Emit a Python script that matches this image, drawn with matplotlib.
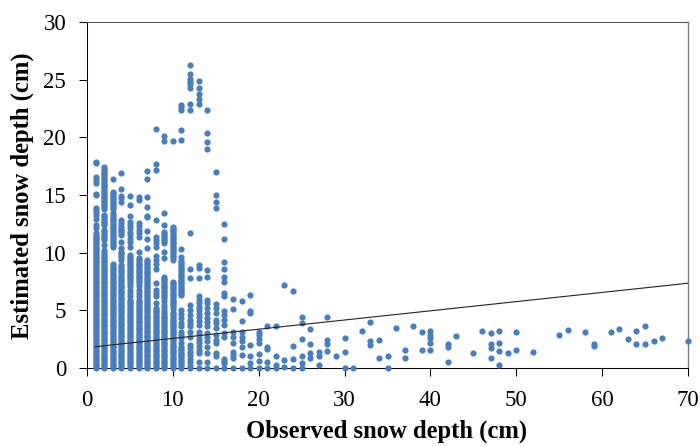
import matplotlib
matplotlib.use("Agg")
import matplotlib.pyplot as plt

plt.rcParams['font.family'] = ['Liberation Serif', 'DejaVu Serif']

# estimated snow depth readings, one list per observed depth
depth_1 = [17.9, 17.8, 16.6, 16.3, 16.0, 15.1, 15.0, 13.9, 13.7, 13.5, 13.3, 12.9, 12.4, 12.1, 11.7, 11.4, 11.1, 10.8, 10.5, 10.2, 9.9, 9.6, 9.3, 9.0, 8.7, 8.4, 8.1, 7.8, 7.5, 7.2, 6.9, 6.6, 6.3, 6.0, 5.7, 5.4, 5.1, 4.8, 4.5, 4.2, 3.9, 3.6, 3.3, 3.0, 2.7, 2.4, 2.1, 1.8, 1.5, 1.2, 0.9, 0.6, 0.3, 0.0,
           11.55, 11.25, 10.95, 10.65, 10.35, 10.05, 9.75, 9.45, 9.15, 8.85, 8.55, 8.25, 7.95, 7.65, 7.35, 7.05, 6.75, 6.45, 6.15, 5.85, 5.55, 5.25, 4.95, 4.65, 4.35, 4.05, 3.75, 3.45, 3.15, 2.85, 2.55, 2.25, 1.95, 1.65, 1.35, 1.05, 0.75, 0.45, 0.15]
depth_2 = [17.4, 17.1, 16.8, 16.5, 16.2, 15.9, 15.6, 15.3, 15.0, 14.7, 14.4, 14.1, 13.8, 13.3, 13.0, 12.7, 12.4, 12.0, 11.7, 11.4, 11.1, 10.7, 10.2, 9.9, 9.6, 9.3, 9.0, 8.7, 8.4, 8.1, 7.8, 7.5, 7.2, 6.9, 6.6, 6.3, 6.0, 5.7, 5.4, 5.1, 4.8, 4.5, 4.2, 3.9, 3.6, 3.3, 3.0, 2.7, 2.4, 2.1, 1.8, 1.5, 1.2, 0.9, 0.6, 0.3, 0.0,
           17.25, 16.95, 16.65, 16.35, 16.05, 15.75, 15.45, 15.15, 14.85, 14.55, 14.25, 13.95, 13.15, 12.85, 12.55, 11.85, 11.55, 11.25, 10.05, 9.75, 9.45, 9.15, 8.85, 8.55, 8.25, 7.95, 7.65, 7.35, 7.05, 6.75, 6.45, 6.15, 5.85, 5.55, 5.25, 4.95, 4.65, 4.35, 4.05, 3.75, 3.45, 3.15, 2.85, 2.55, 2.25, 1.95, 1.65, 1.35, 1.05, 0.75, 0.45, 0.15]
depth_3 = [16.4, 15.3, 15.0, 14.7, 14.4, 14.1, 13.8, 13.4, 13.1, 12.8, 12.5, 12.2, 11.9, 11.6, 11.3, 11.0, 10.7, 10.5, 9.0, 8.7, 8.4, 8.1, 7.8, 7.5, 7.2, 6.9, 6.6, 6.3, 6.0, 5.7, 5.4, 5.1, 4.8, 4.5, 4.2, 3.9, 3.6, 3.3, 3.0, 2.7, 2.4, 2.1, 1.8, 1.5, 1.2, 0.9, 0.6, 0.3, 0.0,
           15.15, 14.85, 14.55, 14.25, 13.95, 13.25, 12.95, 12.65, 12.35, 12.05, 11.75, 11.45, 11.15, 10.85, 8.85, 8.55, 8.25, 7.95, 7.65, 7.35, 7.05, 6.75, 6.45, 6.15, 5.85, 5.55, 5.25, 4.95, 4.65, 4.35, 4.05, 3.75, 3.45, 3.15, 2.85, 2.55, 2.25, 1.95, 1.65, 1.35, 1.05, 0.75, 0.45, 0.15]
depth_4 = [16.9, 15.5, 14.9, 14.7, 14.4, 12.8, 12.6, 12.3, 12.0, 11.7, 11.5, 10.9, 10.4, 10.1, 9.8, 9.4, 8.9, 8.6, 8.3, 7.9, 7.6, 7.3, 7.0, 6.7, 6.4, 6.1, 5.8, 5.5, 5.2, 4.9, 4.6, 4.3, 4.0, 3.7, 3.4, 3.1, 2.8, 2.5, 2.2, 1.9, 1.6, 1.3, 1.0, 0.7, 0.4, 0.1, 0.0,
           12.15, 11.85, 9.95, 9.65, 8.75, 8.45, 8.1, 7.75, 7.45, 7.15, 6.85, 6.55, 6.25, 5.95, 5.65, 5.35, 5.05, 4.75, 4.45, 4.15, 3.85, 3.55, 3.25, 2.95, 2.65, 2.35, 2.05, 1.75, 1.45, 1.15, 0.85, 0.55, 0.25]
depth_5 = [14.9, 14.1, 13.2, 12.7, 12.4, 12.1, 11.8, 11.5, 11.2, 10.9, 10.5, 9.8, 9.5, 9.2, 8.9, 8.6, 8.3, 8.0, 7.7, 7.4, 7.1, 6.8, 6.5, 6.2, 5.9, 5.6, 5.3, 5.0, 4.7, 4.4, 4.1, 3.8, 3.5, 3.2, 2.9, 2.6, 2.3, 2.0, 1.7, 1.4, 1.1, 0.8, 0.5, 0.2, 0.0,
           9.65, 9.35, 9.05, 8.75, 8.45, 8.15, 7.85, 7.55, 5.75, 5.45, 5.15, 4.85, 4.55, 4.25, 3.95, 3.65, 3.35, 3.05, 2.75, 2.45, 2.15, 1.85, 1.55, 1.25, 0.95, 0.65, 0.35]
depth_6 = [14.8, 14.6, 12.6, 12.3, 12.0, 11.7, 11.4, 10.1, 9.5, 9.2, 8.9, 8.6, 8.3, 8.0, 7.7, 7.4, 7.1, 6.8, 6.5, 6.2, 5.9, 5.6, 5.3, 5.0, 4.7, 4.4, 4.1, 3.8, 3.5, 3.2, 2.9, 2.6, 2.3, 2.0, 1.7, 1.4, 1.1, 0.8, 0.5, 0.2, 0.0,
           9.35, 9.05, 8.75, 8.45, 8.15, 7.85, 7.55, 5.75, 5.45, 5.15, 4.85, 4.55, 4.25, 3.95, 3.65, 3.35, 3.05, 2.75, 2.45, 2.15, 1.85, 1.55, 1.25, 0.95, 0.65, 0.35]
depth_7 = [17.1, 16.4, 14.8, 14.0, 13.2, 13.1, 11.9, 11.2, 10.4, 9.4, 9.1, 8.8, 8.5, 8.2, 7.9, 7.6, 7.3, 7.0, 6.7, 6.4, 6.1, 5.8, 5.5, 5.2, 4.9, 4.6, 4.3, 4.0, 3.7, 3.4, 3.1, 2.8, 2.5, 2.2, 1.9, 1.6, 1.3, 1.0, 0.7, 0.4, 0.1, 0.0,
           9.25, 8.95, 8.65, 8.35, 8.05, 7.75, 7.45, 7.15, 6.85, 6.55, 6.25, 5.95, 5.65, 5.35, 5.05, 4.75, 4.45, 4.15, 3.85, 3.55, 3.25, 2.95, 2.65, 2.35, 2.05, 1.75, 1.45, 1.15, 0.85, 0.55, 0.25]
depth_8 = [20.7, 17.7, 17.2, 12.8, 11.4, 11.1, 10.8, 10.5, 9.7, 9.4, 9.0, 8.6, 7.4, 6.8, 6.5, 6.2, 5.6, 5.2, 4.9, 4.6, 4.3, 4.0, 3.7, 3.4, 3.1, 2.8, 2.5, 2.2, 1.9, 1.6, 1.3, 1.0, 0.7, 0.4, 0.1, 0.0,
           5.05, 4.75, 4.45, 4.15, 3.85, 3.55, 3.25, 2.95, 2.65, 2.35, 2.05, 1.75, 1.45, 1.15, 0.85, 0.55, 0.25]
depth_9 = [20.1, 19.7, 13.4, 12.4, 11.8, 11.5, 11.2, 10.8, 10.1, 9.5, 7.9, 7.6, 7.3, 7.0, 6.7, 6.4, 6.1, 5.8, 5.5, 5.2, 4.9, 4.6, 4.3, 4.0, 3.7, 3.4, 3.1, 2.8, 2.5, 2.2, 1.9, 1.6, 1.3, 1.0, 0.7, 0.4, 0.1, 0.0,
           11.65, 11.35, 11.0, 7.75, 7.45, 7.15, 6.85, 6.55, 6.25, 4.75, 4.45, 4.15, 3.85, 3.55, 3.25, 2.95, 2.65, 2.35, 2.05, 1.75, 1.45, 1.15, 0.85, 0.55, 0.25]
depth_10 = [19.65, 12.25, 12.0, 11.7, 11.4, 11.1, 10.8, 10.5, 10.2, 9.9, 9.6, 9.4, 7.5, 7.2, 6.9, 6.6, 6.3, 6.0, 5.7, 5.4, 5.1, 4.8, 4.5, 4.2, 3.9, 3.6, 3.3, 3.0, 2.7, 2.4, 2.1, 1.8, 1.5, 1.2, 0.9, 0.6, 0.3, 0.0,
            12.1, 11.85, 11.55, 11.25, 10.95, 10.65, 10.35, 10.05, 9.75, 7.35, 7.05, 6.75, 6.45, 6.15, 5.85, 5.55, 4.65, 4.35, 4.05, 3.75, 3.45, 3.15, 2.85, 2.55, 2.25, 1.95, 1.65, 1.35, 1.05, 0.75, 0.45, 0.15]
depth_11 = [22.8, 22.6, 22.4, 20.6, 19.8, 10.3, 9.65, 9.3, 9.0, 8.7, 8.4, 8.1, 7.8, 7.5, 7.2, 6.9, 6.6, 6.3, 5.0, 4.7, 4.3, 3.9, 3.6, 3.15, 2.85, 2.6, 2.15, 1.85, 1.55, 1.25, 0.95, 0.65, 0.35, 0.0,
            9.15, 8.85, 8.55, 8.25, 7.95, 7.65, 7.35, 7.05, 6.75, 6.45, 1.7, 1.4, 1.1, 0.8, 0.5, 0.2]
depth_12 = [26.3, 25.5, 25.1, 24.8, 24.6, 24.3, 22.9, 22.4, 11.7, 8.6, 7.8, 5.45, 5.0, 4.6, 4.15, 3.9, 3.6, 3.15, 2.7, 2.0, 1.7, 1.4, 1.1, 0.8, 0.5, 0.2, 0.0]
depth_13 = [24.9, 24.3, 23.8, 23.3, 22.9, 8.9, 8.7, 7.8, 6.2, 5.9, 5.6, 5.3, 5.0, 4.7, 4.4, 4.1, 3.75, 3.15, 2.85, 2.55, 2.25, 1.95, 1.6, 1.3, 0.55, 0.0]
depth_14 = [22.4, 20.4, 19.6, 19.0, 8.5, 7.9, 5.9, 5.6, 5.2, 4.75, 4.3, 4.0, 3.6, 3.0, 2.7, 2.3, 1.85, 1.3, 0.55, 0.0]
depth_15 = [17.0, 15.0, 14.4, 13.9, 5.55, 5.2, 4.75, 4.15, 3.9, 3.45, 2.85, 2.45, 2.15, 1.3, 1.0, 0.0]
depth_16 = [12.5, 11.2, 9.2, 8.6, 7.9, 7.5, 6.5, 6.2, 4.9, 4.6, 4.15, 3.75, 3.0, 2.7, 0.8, 0.65, 0.4, 0.0]
depth_17 = [6.0, 5.15, 3.15, 2.7, 2.15, 1.4, 1.1, 0.85, 0.0]
depth_18 = [5.85, 4.1, 3.15, 2.7, 2.3, 1.85, 1.1, 0.0]
depth_19 = [6.3, 4.9, 4.75, 2.0, 1.05, 0.4, 0.0]
depth_20 = [3.15, 2.85, 2.5, 2.2, 1.25, 0.65, 0.0]
depth_21 = [3.6, 1.85, 1.65, 0.55, 0.0]
depth_22 = [3.6, 1.05, 0.3, 0.0]
depth_23 = [7.2, 0.7, 0.05]
depth_24 = [6.7, 1.9, 0.75, 0.0]
depth_25 = [4.4, 3.9, 2.5, 1.05, 0.4, 0.0]
depth_26 = [3.35, 2.1, 1.3, 0.9]
depth_27 = [1.4, 1.05, 0.25]
depth_28 = [4.4, 2.4, 2.1, 1.45]
depth_29 = [1.0]
depth_30 = [2.6, 1.4, 0.0]
depth_31 = [0.0]
depth_32 = [3.2]
depth_33 = [4.0, 2.3, 2.0]
depth_34 = [2.4, 0.9]
depth_35 = [1.05, 0.0]
depth_36 = [3.45]
depth_37 = [1.55, 0.9]
depth_38 = [3.6]
depth_39 = [3.1, 1.55]
depth_40 = [3.2, 2.9, 2.6, 2.15, 1.55]
depth_42 = [2.1, 1.8, 0.5]
depth_43 = [2.75]
depth_45 = [1.3]
depth_46 = [3.2]
depth_47 = [3.0, 2.1, 1.7, 0.85]
depth_48 = [3.2, 2.2, 1.45, 0.25]
depth_49 = [1.3]
depth_50 = [3.1, 1.6]
depth_52 = [1.4]
depth_55 = [2.9]
depth_56 = [3.3]
depth_58 = [3.15]
depth_59 = [2.05, 1.95]
depth_61 = [3.1]
depth_62 = [3.4]
depth_63 = [2.55]
depth_64 = [3.2, 2.1]
depth_65 = [3.6, 2.1]
depth_66 = [2.3]
depth_67 = [2.6]
depth_70 = [2.3]

observed = [1, 2, 3, 4, 5, 6, 7, 8, 9, 10, 11, 12, 13, 14, 15, 16, 17, 18, 19, 20, 21, 22, 23, 24, 25, 26, 27, 28, 29, 30, 31, 32, 33, 34, 35, 36, 37, 38, 39, 40, 42, 43, 45, 46, 47, 48, 49, 50, 52, 55, 56, 58, 59, 61, 62, 63, 64, 65, 66, 67, 70]
estimated = [depth_1, depth_2, depth_3, depth_4, depth_5, depth_6, depth_7, depth_8, depth_9, depth_10, depth_11, depth_12, depth_13, depth_14, depth_15, depth_16, depth_17, depth_18, depth_19, depth_20, depth_21, depth_22, depth_23, depth_24, depth_25, depth_26, depth_27, depth_28, depth_29, depth_30, depth_31, depth_32, depth_33, depth_34, depth_35, depth_36, depth_37, depth_38, depth_39, depth_40, depth_42, depth_43, depth_45, depth_46, depth_47, depth_48, depth_49, depth_50, depth_52, depth_55, depth_56, depth_58, depth_59, depth_61, depth_62, depth_63, depth_64, depth_65, depth_66, depth_67, depth_70]

trend_x = [1, 70]
trend_y = [1.85, 7.35]

x_ticks = [0, 10, 20, 30, 40, 50, 60, 70]
y_ticks = [0, 5, 10, 15, 20, 25, 30]

fig = plt.figure(figsize=(7, 4.46), dpi=100)
ax = fig.add_axes([87 / 700, 1 - 368 / 446, 601 / 700, 346 / 446])

for x, ys in zip(observed, estimated):
    ax.scatter([x] * len(ys), ys, marker='o', s=20, color='#4a7ebb', linewidths=0, clip_on=False, zorder=3)
ax.plot(trend_x, trend_y, color='#222222', linewidth=0.8, zorder=4)

ax.set_xlim(0, 70)
ax.set_ylim(0, 30)
ax.set_xticks(x_ticks)
ax.set_yticks(y_ticks)
ax.tick_params(direction='out', length=6, width=0.75, labelsize=16.5)
ax.tick_params(axis='x', pad=10)
ax.tick_params(axis='y', pad=9)

ax.spines['left'].set_linewidth(0.75)
ax.spines['bottom'].set_linewidth(0.75)
ax.spines['top'].set_color('#555555')
ax.spines['top'].set_linewidth(0.75)
ax.spines['right'].set_color('#808080')
ax.spines['right'].set_linewidth(1.0)

fig.text(387 / 700, 1 - 431 / 446, 'Observed snow depth (cm)', fontsize=17.7, fontweight='bold', ha='center', va='center')
fig.text(22 / 700, 1 - 196 / 446, 'Estimated snow depth (cm)', fontsize=17.7, fontweight='bold', rotation=90, ha='center', va='center')

fig.savefig('out.png', dpi=100)
